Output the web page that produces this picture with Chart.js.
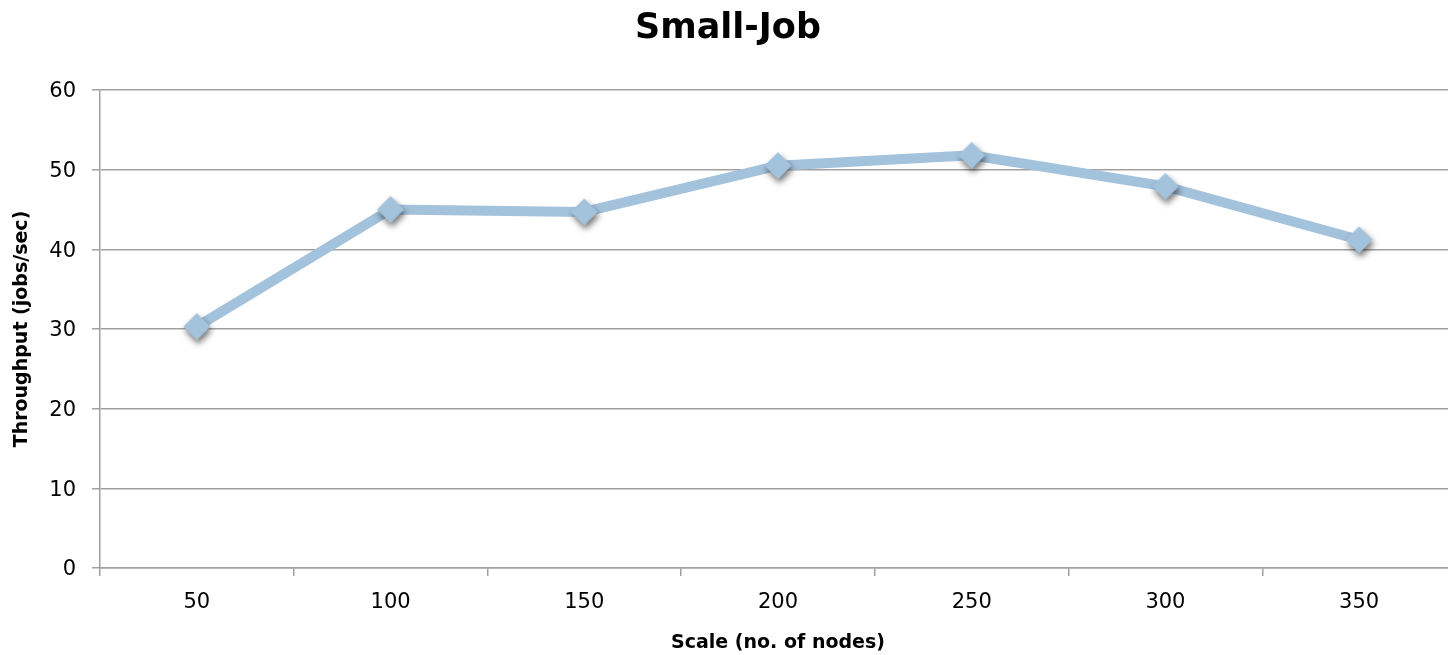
<!DOCTYPE html>
<html>
<head>
<meta charset="utf-8">
<title>Small-Job</title>
<script src="https://cdn.jsdelivr.net/npm/chart.js@4.4.1/dist/chart.umd.min.js"></script>
<style>
  html, body { margin: 0; padding: 0; background: #ffffff; overflow: hidden; }
  #wrap { position: relative; width: 1456px; height: 655px; }
  canvas { display: block; }
</style>
</head>
<body>
<div id="wrap"><canvas id="chart" width="1456" height="655"></canvas></div>
<script>
// Throughput measured at each cluster scale
const scaleLabels = ['50', '100', '150', '200', '250', '300', '350'];
const throughput = [30.3, 45.0, 44.7, 50.5, 51.8, 47.9, 41.2];
const yTicks = [0, 10, 20, 30, 40, 50, 60];

const TICK_FONT = "'DejaVu Sans', sans-serif";
const TITLE_FONT = "'DejaVu Sans', sans-serif";
const LINE_COLOR = '#a3c2dc';
const GRID_COLOR = '#a0a0a0';

// Diamond marker with a soft drop shadow, used as the point image
function makeDiamond() {
  const c = document.createElement('canvas');
  c.width = 48; c.height = 48;
  const g = c.getContext('2d');
  const cx = 24, cy = 24, r = 13.5;
  g.shadowColor = 'rgba(0,0,0,0.55)';
  g.shadowBlur = 6;
  g.shadowOffsetX = 1.5;
  g.shadowOffsetY = 4;
  g.fillStyle = LINE_COLOR;
  g.beginPath();
  g.moveTo(cx, cy - r);
  g.lineTo(cx + r, cy);
  g.lineTo(cx, cy + r);
  g.lineTo(cx - r, cy);
  g.closePath();
  g.fill();
  return c;
}

new Chart(document.getElementById('chart'), {
  type: 'line',
  data: {
    labels: scaleLabels,
    datasets: [{
      label: 'Throughput',
      data: throughput,
      borderColor: LINE_COLOR,
      backgroundColor: LINE_COLOR,
      borderWidth: 10,
      tension: 0,
      pointStyle: makeDiamond(),
      pointRadius: 13,
      pointBorderWidth: 0,
      fill: false
    }]
  },
  options: {
    responsive: false,
    animation: false,
    events: [],
    layout: { autoPadding: false, padding: { left: 0, right: 0, top: 0, bottom: 0 } },
    plugins: {
      legend: { display: false },
      tooltip: { enabled: false },
      title: {
        display: true,
        text: 'Small-Job',
        color: '#000000',
        font: { family: TITLE_FONT, size: 35, weight: 'bold' },
        padding: { top: 8, bottom: 40 }
      }
    },
    scales: {
      x: {
        type: 'category',
        offset: true,
        afterFit: (s) => { s.height = 87; },
        grid: {
          offset: true,
          drawOnChartArea: false,
          drawTicks: true,
          tickLength: 8,
          color: GRID_COLOR,
          lineWidth: 1.5
        },
        border: { display: true, color: GRID_COLOR, width: 1.5 },
        ticks: {
          color: '#000000',
          padding: 14,
          maxRotation: 0,
          font: { family: TICK_FONT, size: 21 }
        },
        title: {
          display: true,
          text: 'Scale (no. of nodes)',
          color: '#000000',
          font: { family: TITLE_FONT, size: 19, weight: 'bold' },
          padding: { top: 0, bottom: 1 }
        }
      },
      y: {
        min: 0,
        max: 60,
        afterFit: (s) => { s.width = 100; },
        afterBuildTicks: (s) => { s.ticks = yTicks.map(v => ({ value: v })); },
        grid: {
          drawOnChartArea: true,
          drawTicks: true,
          tickLength: 8,
          color: GRID_COLOR,
          lineWidth: 1.5
        },
        border: { display: true, color: GRID_COLOR, width: 1.5 },
        ticks: {
          color: '#000000',
          padding: 16,
          labelOffset: 2,
          font: { family: TICK_FONT, size: 21 }
        },
        title: {
          display: true,
          text: 'Throughput (jobs/sec)',
          color: '#000000',
          font: { family: TITLE_FONT, size: 19, weight: 'bold' },
          padding: { top: 11, bottom: 0 }
        }
      }
    }
  }
});
</script>
</body>
</html>
